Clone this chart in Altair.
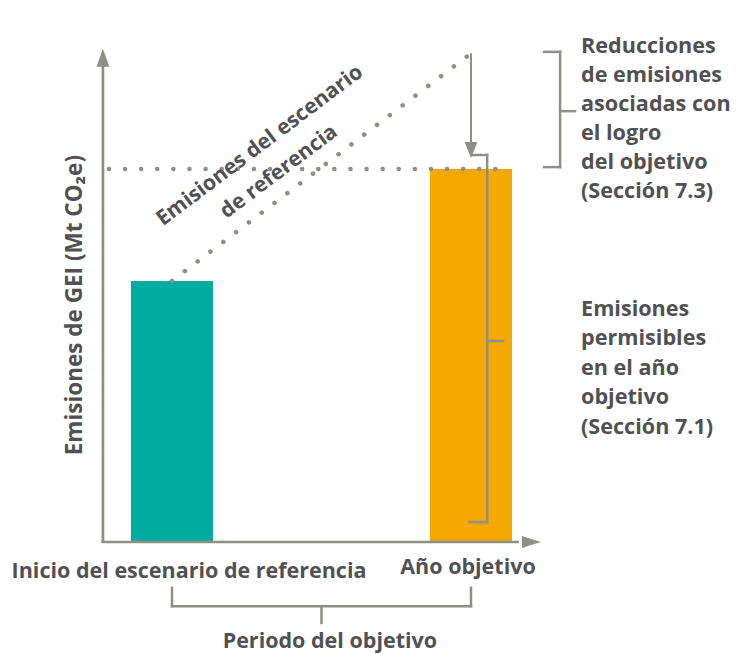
import altair as alt
import pandas as pd

# ---- conceptual data (years since start of reference scenario, emissions index) ----
periods = ["Inicio del escenario de referencia", "Año objetivo"]
period_year = [0, 10]
ghg_emissions = [70, 100]          # emissions shown as bars
reference_scenario = [70, 131]     # reference (BAU) scenario emissions
target_level = 100                  # permitted emissions in target year
bar_colors = ["#00ab9f", "#f5a800"]

GRAY = "#8e8f87"
TEXT = "#515153"
FONT = "Open Sans"
FS = 21.5

xs = alt.Scale(domain=[0, 10], range=[164, 463], nice=False, zero=False, padding=0)
ys = alt.Scale(domain=[0, 100], range=[534, 161], nice=False, zero=False, padding=0)


def X(f="x"):
    return alt.X(f"{f}:Q", scale=xs, axis=None)


def Y(f="y"):
    return alt.Y(f"{f}:Q", scale=ys, axis=None)


# bars
bars_df = pd.DataFrame({"x": period_year, "y": ghg_emissions, "base": [0, 0], "c": bar_colors})
bars = alt.Chart(bars_df).mark_bar(size=82).encode(
    x=X(), y=Y(), y2="base:Q", color=alt.Color("c:N", scale=None)
)

# dotted lines: target level and reference scenario
dots_df = pd.DataFrame({
    "x": [-2.11, period_year[0]],
    "y": [target_level, reference_scenario[0]],
    "x2": [11.14, period_year[1]],
    "y2": [target_level, reference_scenario[1]],
})
dots = alt.Chart(dots_df).mark_rule(
    color=GRAY, strokeWidth=4.5, strokeDash=[0.1, 16], strokeCap="round"
).encode(x=X(), y=Y(), x2="x2:Q", y2="y2:Q")

# axes
axes_df = pd.DataFrame({
    "x": [-2.31, -2.36],
    "y": [-0.3, 0],
    "x2": [-2.31, 11.6],
    "y2": [128, 0],
})
axes = alt.Chart(axes_df).mark_rule(color=GRAY, strokeWidth=2.7).encode(
    x=X(), y=Y(), x2="x2:Q", y2="y2:Q"
)

# reduction arrow shaft
arrow_df = pd.DataFrame({"x": [10], "y": [reference_scenario[1]], "x2": [10], "y2": [106]})
arrow = alt.Chart(arrow_df).mark_rule(color=GRAY, strokeWidth=2).encode(
    x=X(), y=Y(), x2="x2:Q", y2="y2:Q"
)

# brackets
br_df = pd.DataFrame({
    "x":  [10.05, 10.54, 9.95, 10.54, 12.44, 12.98, 12.44, 12.98, 0, 10, 0, 5],
    "y":  [103.75, 103.75, 5.36, 53.9, 131.4, 131.4, 100.5, 115.5, -12.3, -12.3, -17.2, -17.2],
    "x2": [10.54, 10.54, 10.54, 11.07, 12.98, 12.98, 12.98, 13.48, 0, 10, 10, 5],
    "y2": [103.75, 5.36, 5.36, 53.9, 131.4, 100.5, 100.5, 115.5, -17.2, -17.2, -17.2, -21.7],
})
brackets = alt.Chart(br_df).mark_rule(color=GRAY, strokeWidth=2.5, strokeCap="square").encode(
    x=X(), y=Y(), x2="x2:Q", y2="y2:Q"
)

# arrowheads
heads = []
for hx, hy, shape, size in [
    (-2.31, 129.8, "M0,-1L0.72,1L-0.72,1Z", 324),
    (12.02, 0, "M1,0L-1,-0.63L-1,0.63Z", 361),
    (10, 105.1, "M0,1L0.8,-1L-0.8,-1Z", 256),
]:
    heads.append(
        alt.Chart(pd.DataFrame({"x": [hx], "y": [hy]})).mark_point(
            shape=shape, size=size, filled=True, color=GRAY, opacity=1, strokeWidth=0
        ).encode(x=X(), y=Y())
    )

# texts
def txt(df, **kw):
    base = dict(font=FONT, fontWeight="bold", fontSize=FS, color=TEXT, lineBreak="\n")
    base.update(kw)
    return alt.Chart(df).mark_text(**base).encode(x=X(), y=Y(), text="t:N")

xlab = txt(pd.DataFrame({"x": [0.57, 9.9], "y": [-9.65, -8.6], "t": periods}),
           align="center", baseline="alphabetic")
period_lab = txt(pd.DataFrame({"x": [5.28], "y": [-28.4], "t": ["Periodo del objetivo"]}),
                 align="center", baseline="alphabetic")
ytitle = txt(pd.DataFrame({"x": [-3.24], "y": [63.5], "t": ["Emisiones de GEI (Mt CO₂e)"]}),
             align="center", baseline="middle", angle=270, fontSize=22.5)
right1 = txt(pd.DataFrame({"x": [13.68], "y": [131.1],
                           "t": ["Reducciones\nde emisiones\nasociadas con\nel logro\ndel objetivo\n(Sección 7.3)"]}),
             align="left", baseline="alphabetic", lineHeight=29, fontSize=21.6)
right2 = txt(pd.DataFrame({"x": [13.68], "y": [60.6],
                           "t": ["Emisiones\npermisibles\nen el año\nobjetivo\n(Sección 7.1)"]}),
             align="left", baseline="alphabetic", lineHeight=29.5, fontSize=21.6)
diag = txt(pd.DataFrame({"x": [2.94, 3.58], "y": [106.2, 99.2],
                         "t": ["Emisiones del escenario", "de referencia"]}),
           align="center", baseline="middle", angle=323, fontSize=21.2)

chart = alt.layer(
    bars, dots, axes, arrow, brackets, *heads, xlab, period_lab, ytitle, right1, right2, diag
).properties(
    width=727, height=646, autosize=alt.AutoSizeParams(type="none"), padding=0
).configure_view(stroke=None)

chart.save("out.html", embed_options={"renderer": "svg", "actions": False})
